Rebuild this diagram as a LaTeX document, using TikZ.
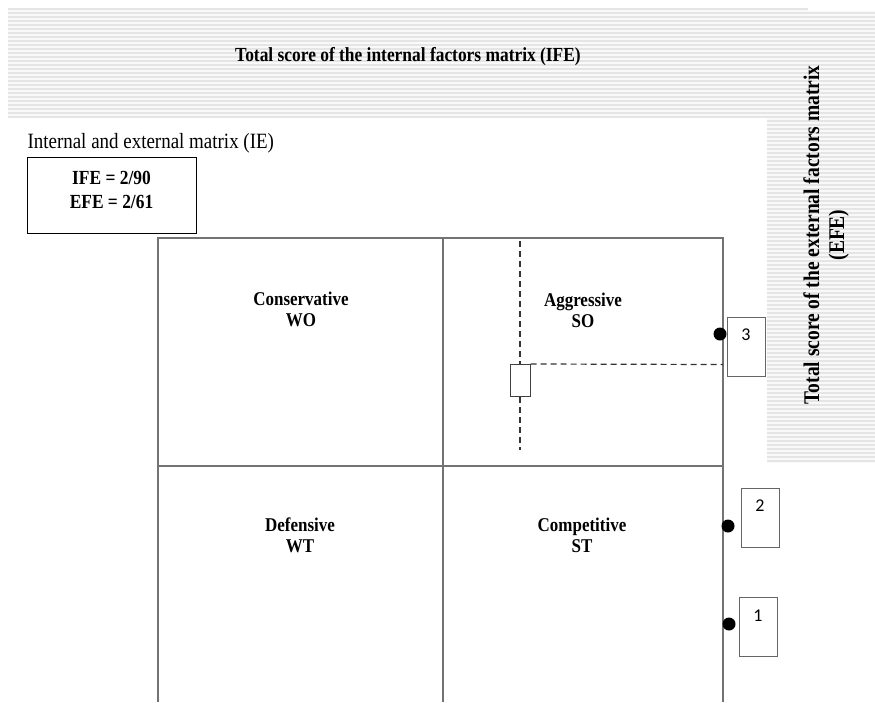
\documentclass[tikz,border=0pt]{standalone}
\usepackage{fontspec}
\setmainfont{Liberation Serif}[FakeStretch=0.87]
\newfontfamily\numfont{Carlito}
\usepackage{tikz}

\tikzset{
  stripe/.style={gray!20, line width=2pt},
  cellline/.style={draw=black!55, line width=1.3pt},
  guide/.style={black!80, dash pattern=on 6pt off 4pt, line width=1.2pt},
  quadlabel/.style={font=\fontsize{19.5}{21}\selectfont\bfseries, align=center},
  scorebox/.style={draw=black!60, line width=0.9pt, minimum width=38pt, minimum height=59pt, inner sep=0pt},
  scoredot/.style={circle, fill=black, minimum size=13pt, inner sep=0pt},
}

\begin{document}
\begin{tikzpicture}[x=1pt,y=-1pt]
		\useasboundingbox (0,0) rectangle (875,702);

		% striped bands
		\fill[gray!5] (8,8) rectangle (808,118);
		\fill[gray!5] (808,11) rectangle (875,118);
		\fill[gray!5] (767,118) rectangle (875,463);
		\draw[stripe] (8,9) -- (808,9);
		\foreach \y in {13,17,...,117} \draw[stripe] (8,\y) -- (875,\y);
		\foreach \y in {121,125,...,461} \draw[stripe] (767,\y) -- (875,\y);

		% axis titles
		\node (ifetitle) at (408,57) {\fontsize{20}{22}\selectfont\bfseries Total score of the internal factors matrix (IFE)};
		\node [rotate=90, align=center, font=\fontsize{22.4}{25}\selectfont\bfseries] (efetitle) at (826,235) {Total score of the external factors matrix\\(EFE)};

		% heading and values
		\node [anchor=west] (iehead) at (24,143) {\fontsize{21.8}{22}\selectfont Internal and external matrix (IE)};
		\node [draw, line width=1pt, minimum width=169pt, minimum height=76pt, inner sep=0pt] (valbox) at (111.5,195) {};
		\node [align=center, font=\fontsize{20}{24}\selectfont\bfseries] (values) at (111.5,190) {IFE = 2/90\\EFE = 2/61};

		% matrix
		\coordinate (tl) at (158,238);
		\coordinate (tm) at (443,238);
		\coordinate (tr) at (723,238);
		\coordinate (ml) at (158,466);
		\coordinate (mr) at (723,466);
		\coordinate (bl) at (158,702);
		\coordinate (bm) at (443,702);
		\coordinate (br) at (723,702);
		\draw [cellline] (bl) -- (tl) -- (tr) -- (br);
		\draw [cellline] (tm) -- (bm);
		\draw [cellline] (ml) -- (mr);

		% quadrant names
		\node [quadlabel] (wo) at (301,309) {Conservative\\WO};
		\node [quadlabel] (so) at (583,310) {Aggressive\\SO};
		\node [quadlabel] (wt) at (300,535) {Defensive\\WT};
		\node [quadlabel] (st) at (582,535) {Competitive\\ST};

		% position of the firm
		\node [draw, black!75, line width=1pt, minimum width=20pt, minimum height=32pt, inner sep=0pt] (pos) at (520,380.5) {};
		\coordinate (vtop) at (520,241);
		\coordinate (vbot) at (520,450);
		\coordinate (hend) at (723,364.5);
		\draw [guide] (vtop) -- (pos.north);
		\draw [guide] (pos.south) -- (vbot);
		\draw [guide] (pos.north east) -- (hend);

		% scores
		\node [scoredot] (d3) at (720,334) {};
		\node [scoredot] (d2) at (728,526) {};
		\node [scoredot] (d1) at (729,624) {};
		\node [scorebox, label={[font=\numfont\fontsize{18}{20}\selectfont, anchor=north, yshift=-9pt]north:3}] (s3) at (746,346.5) {};
		\node [scorebox, label={[font=\numfont\fontsize{18}{20}\selectfont, anchor=north, yshift=-9pt]north:2}] (s2) at (760,517.5) {};
		\node [scorebox, label={[font=\numfont\fontsize{18}{20}\selectfont, anchor=north, yshift=-9pt]north:1}] (s1) at (758,627) {};

\end{tikzpicture}
\end{document}
